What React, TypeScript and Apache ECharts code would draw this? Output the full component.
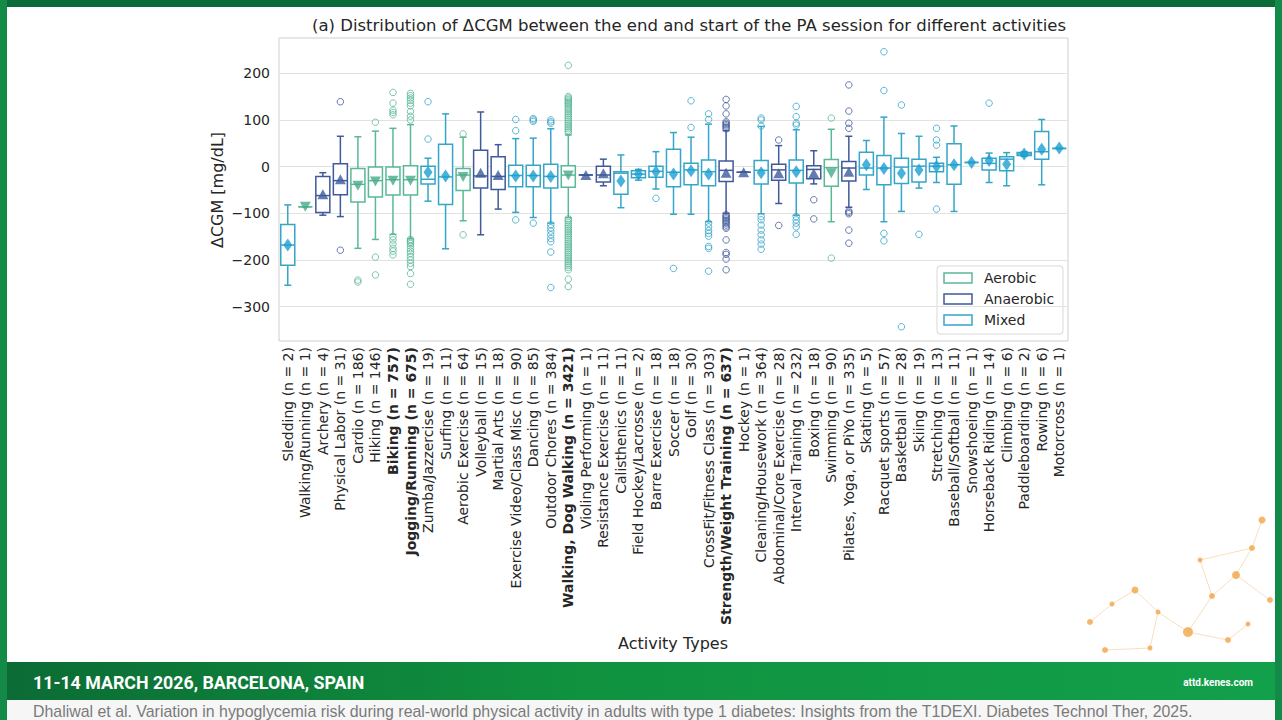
import React, { useEffect, useRef } from "react";
import * as echarts from "echarts";

// ---------- data ----------
const CATEGORIES = [
  "Sledding (n = 2)",
  "Walking/Running (n = 1)",
  "Archery (n = 4)",
  "Physical Labor (n = 31)",
  "Cardio (n = 186)",
  "Hiking (n = 146)",
  "Biking (n = 757)",
  "Jogging/Running (n = 675)",
  "Zumba/Jazzercise (n = 19)",
  "Surfing (n = 11)",
  "Aerobic Exercise (n = 64)",
  "Volleyball (n = 15)",
  "Martial Arts (n = 18)",
  "Exercise Video/Class Misc (n = 90)",
  "Dancing (n = 85)",
  "Outdoor Chores (n = 384)",
  "Walking, Dog Walking (n = 3421)",
  "Violing Performing (n = 1)",
  "Resistance Exercise (n = 11)",
  "Calisthenics (n = 11)",
  "Field Hockey/Lacrosse (n = 2)",
  "Barre Exercise (n = 18)",
  "Soccer (n = 18)",
  "Golf (n = 30)",
  "CrossFit/Fitness Class (n = 303)",
  "Strength/Weight Training (n = 637)",
  "Hockey (n = 1)",
  "Cleaning/Housework (n = 364)",
  "Abdominal/Core Exercise (n = 28)",
  "Interval Training (n = 232)",
  "Boxing (n = 18)",
  "Swimming (n = 90)",
  "Pilates, Yoga, or PiYo (n = 335)",
  "Skating (n = 5)",
  "Racquet sports (n = 57)",
  "Basketball (n = 28)",
  "Skiing (n = 19)",
  "Stretching (n = 13)",
  "Baseball/Softball (n = 11)",
  "Snowshoeing (n = 1)",
  "Horseback Riding (n = 14)",
  "Climbing (n = 6)",
  "Paddleboarding (n = 2)",
  "Rowing (n = 6)",
  "Motorcross (n = 1)",
];
const BOLD_INDEX = [6, 7, 16, 25];

// 0 = Aerobic, 1 = Anaerobic, 2 = Mixed
const TYPE_NAMES = ["Aerobic", "Anaerobic", "Mixed"];
const TYPES = [
  2, 0, 1, 1, 0, 0, 0, 0, 2, 2,
  0, 1, 1, 2, 2, 2, 0, 1, 1, 2,
  2, 2, 2, 2, 2, 1, 1, 2, 1, 2,
  1, 0, 1, 2, 2, 2, 2, 2, 2, 2,
  2, 2, 2, 2, 2,
];

const WHISKER_LOW = [
  -254, -86, -104, -107, -175, -156, -145, -154, -74, -176,
  -116, -146, -91, -98, -109, -121, -109, -18, -41, -88,
  -29, -48, -102, -102, -118, -100, -12, -101, -79, -104,
  -37, -118, -87, -49, -118, -96, -46, -34, -96, 9,
  -34, -41, 22, -39, 39,
];
const Q1 = [
  -211, -86, -98, -60, -76, -65, -61, -61, -37, -81,
  -51, -46, -49, -43, -43, -46, -44, -18, -33, -59,
  -24, -23, -43, -39, -41, -32, -12, -37, -29, -35,
  -26, -42, -31, -18, -39, -36, -33, -11, -38, 9,
  -7, -9, 24, 16, 39,
];
const MEDIAN = [
  -168, -86, -62, -30, -38, -30, -28, -28, -27, -22,
  -18, -20, -21, -19, -19, -21, -18, -18, -18, -14,
  -16, -10, -12, -7, -11, -8, -12, -8, -7, -8,
  -6, -2, -3, -3, -3, -1, 1, 1, 4, 9,
  7, 16, 27, 32, 39,
];
const Q3 = [
  -124, -86, -21, 6, -4, -1, -1, 2, 1, 48,
  -4, 35, 21, 3, 3, 5, 2, -18, 1, -11,
  -9, 1, 37, 7, 14, 12, -12, 13, 5, 14,
  2, 15, 11, 31, 24, 18, 16, 7, 49, 9,
  18, 21, 30, 75, 39,
];
const WHISKER_HIGH = [
  -82, -86, -13, 65, 64, 76, 82, 90, 18, 113,
  63, 117, 47, 60, 61, 81, 68, -18, 16, 25,
  -6, 32, 73, 63, 91, 77, -12, 86, 45, 79,
  34, 80, 65, 56, 106, 71, 65, 20, 87, 9,
  29, 30, 32, 101, 39,
];
const MEANS = [
  -168, -86, -59, -27, -41, -32, -30, -30, -12, -20,
  -22, -13, -18, -20, -20, -21, -19, -18, -14, -31,
  -16, -11, -16, -9, -16, -13, -12, -13, -14, -11,
  -14, -14, -11, 4, -4, -14, -7, 0, 4, 9,
  13, 5, 27, 37, 40,
];
const OUTLIERS: number[][] = [
  [],
  [],
  [],
  [139, -179],
  [-243, -247],
  [95, -194, -232],
  [159, 136, 121, 116, 111, -150, -157, -166, -175, -181, -189],
  [157, 152, 147, 142, 136, 130, 118, 108, 100, -156, -159, -162, -165, -170, -176, -181, -186, -193, -200, -207, -214, -229, -252],
  [139, 59],
  [],
  [70, -146],
  [],
  [],
  [101, 77, -114],
  [103, 100, 97, -121],
  [100, 96, 93, -124, -131, -138, -146, -154, -161, -183, -259],
  [217, 150, 147, 144, 141, 138, 135, 132, 128, 125, 121, 117, 113, 109, 105, 101, 97, 93, 89, 85, 81, 77, 73,
    -112, -116, -120, -124, -128, -132, -136, -140, -144, -148, -152, -156, -160, -164, -168, -172, -176, -180,
    -184, -188, -192, -196, -200, -204, -208, -212, -216, -221, -241, -257],
  [],
  [],
  [],
  [],
  [-68],
  [-218],
  [141, 84],
  [113, 101, -121, -129, -137, -143, -149, -171, -175, -224],
  [144, 130, 113, 96, 93, 90, 87, 84, 81, -103, -106, -109, -112, -115, -118, -121, -125, -129, -132, -157, -184, -188, -198, -221],
  [],
  [104, 100, 87, -107, -114, -125, -136, -146, -157, -166, -177],
  [57, -126],
  [129, 107, 93, 89, -107, -114, -121, -129, -145],
  [-71, -112],
  [104, -196],
  [175, 119, 93, 82, -95, -98, -101, -136, -164],
  [],
  [246, 163, -143, -159],
  [132, -343],
  [-145],
  [82, 57, 46, -91],
  [],
  [],
  [136],
  [],
  [],
  [],
  [],
];
const Y_TICKS = [-300, -200, -100, 0, 100, 200];
const Y_MIN = -373.5;
const Y_MAX = 275.5;

// ---------- styles ----------
const EDGE_COLORS = ["#5ab896", "#40599a", "#35a5c8"];
const MARK_COLORS = ["#47aa88", "#3c5a9c", "#1c9fd2"];
const FONT = "DejaVu Sans";
const TEXT = "#262626";

const DOTS = [
  [1090, 622, 3], [1112, 604, 2.5], [1135, 590, 3.5], [1158, 612, 2.5], [1188, 632, 5],
  [1212, 596, 3], [1236, 575, 4], [1252, 548, 3], [1262, 520, 3.5], [1270, 600, 3],
  [1228, 640, 3], [1150, 648, 2.5], [1105, 650, 3], [1248, 624, 2.5], [1200, 560, 2.5],
];
const LINKS = [[0, 1], [1, 2], [2, 3], [3, 4], [4, 5], [5, 6], [6, 7], [7, 8], [6, 9], [4, 10], [3, 11], [11, 12], [10, 13], [5, 14], [14, 7]];

export default function App() {
  const ref = useRef<HTMLDivElement>(null);

  useEffect(() => {
    if (!ref.current) return;
    const chart = echarts.init(ref.current, null, { renderer: "svg" });

    const boxData = CATEGORIES.map((_, i) => [i, WHISKER_LOW[i], Q1[i], MEDIAN[i], Q3[i], WHISKER_HIGH[i], TYPES[i]]);
    const outlierData: any[] = [];
    OUTLIERS.forEach((list, i) =>
      list.forEach((v) =>
        outlierData.push({ value: [i, v], itemStyle: { borderColor: EDGE_COLORS[TYPES[i]] } })
      )
    );
    const meanData = MEANS.map((m, i) => {
      const t = TYPES[i];
      return {
        value: [i, m],
        symbol: t === 2 ? "diamond" : "triangle",
        symbolRotate: t === 0 ? 180 : 0,
        symbolSize: t === 2 ? [9, 13] : [11, 10],
        itemStyle: { color: MARK_COLORS[t] },
      };
    });

    const legendChildren: any[] = [
      {
        type: "rect",
        shape: { x: 937, y: 266, width: 126, height: 68, r: 3 },
        style: { fill: "rgba(255,255,255,0.85)", stroke: "#d9d9d9", lineWidth: 1 },
      },
    ];
    TYPE_NAMES.forEach((name, k) => {
      const cy = 278 + k * 21;
      legendChildren.push({
        type: "rect",
        shape: { x: 944, y: cy - 5, width: 28, height: 10 },
        style: { fill: "#ffffff", stroke: EDGE_COLORS[k], lineWidth: 1.5 },
      });
      legendChildren.push({
        type: "text",
        x: 984,
        y: cy,
        style: { text: name, fontFamily: FONT, fontSize: 14, fill: TEXT, align: "left", verticalAlign: "middle" },
      });
    });

    const deco: any[] = [];
    LINKS.forEach(([a, b]) => {
      deco.push({
        type: "line",
        shape: { x1: DOTS[a][0], y1: DOTS[a][1], x2: DOTS[b][0], y2: DOTS[b][1] },
        style: { stroke: "rgba(240,160,70,0.35)", lineWidth: 1 },
      });
    });
    DOTS.forEach(([x, y, r]) => {
      deco.push({ type: "circle", shape: { cx: x, cy: y, r }, style: { fill: "rgba(240,160,60,0.75)" } });
    });

    const option: any = {
      animation: false,
      backgroundColor: "#ffffff",
      grid: {
        left: 279,
        right: 214,
        top: 38,
        bottom: 379,
        show: true,
        borderColor: "#cfcfcf",
        borderWidth: 1,
        backgroundColor: "#ffffff",
      },
      xAxis: {
        type: "category",
        data: CATEGORIES,
        boundaryGap: true,
        axisLine: { show: false },
        axisTick: { show: false },
        splitLine: { show: false },
        axisLabel: {
          interval: 0,
          rotate: 90,
          margin: 6,
          fontFamily: FONT,
          fontSize: 14,
          color: TEXT,
          formatter: (v: string, i: number) => (BOLD_INDEX.includes(i) ? `{b|${v}}` : v),
          rich: { b: { fontFamily: FONT, fontSize: 14, fontWeight: "bold", color: TEXT } },
        },
      },
      yAxis: {
        type: "value",
        min: Y_MIN,
        max: Y_MAX,
        axisLine: { show: false },
        axisTick: { show: false, customValues: Y_TICKS },
        axisLabel: {
          customValues: Y_TICKS,
          formatter: (v: number) => (v < 0 ? "\u2212" + Math.abs(v) : String(v)),
          fontFamily: FONT,
          fontSize: 14,
          color: TEXT,
          margin: 9,
        },
        splitLine: { show: true, lineStyle: { color: "#e2e2e2", width: 1.2 } },
      },
      series: [
        {
          type: "custom",
          name: "boxes",
          silent: true,
          z: 2,
          encode: { x: 0, y: [1, 2, 3, 4, 5] },
          data: boxData,
          renderItem: (params: any, api: any) => {
            const i = api.value(0);
            const t = api.value(6);
            const x = api.coord([i, 0])[0];
            const bw = api.size([1, 0])[0] * 0.8;
            const yv = (k: number) => api.coord([i, api.value(k)])[1];
            const yl = yv(1), y1 = yv(2), ym = yv(3), y3 = yv(4), yh = yv(5);
            const col = EDGE_COLORS[t];
            const ls = { stroke: col, lineWidth: 1.5 };
            return {
              type: "group",
              children: [
                { type: "line", shape: { x1: x, y1: y1, x2: x, y2: yl }, style: ls },
                { type: "line", shape: { x1: x, y1: y3, x2: x, y2: yh }, style: ls },
                { type: "line", shape: { x1: x - bw / 4, y1: yl, x2: x + bw / 4, y2: yl }, style: ls },
                { type: "line", shape: { x1: x - bw / 4, y1: yh, x2: x + bw / 4, y2: yh }, style: ls },
                {
                  type: "rect",
                  shape: { x: x - bw / 2, y: y3, width: bw, height: y1 - y3 },
                  style: { fill: "#ffffff", stroke: col, lineWidth: 1.5 },
                },
                { type: "line", shape: { x1: x - bw / 2, y1: ym, x2: x + bw / 2, y2: ym }, style: ls },
              ],
            };
          },
        },
        {
          type: "scatter",
          name: "outliers",
          silent: true,
          z: 3,
          symbol: "circle",
          symbolSize: 6.5,
          itemStyle: { color: "rgba(255,255,255,0)", borderWidth: 1 },
          data: outlierData,
        },
        {
          type: "scatter",
          name: "means",
          silent: true,
          z: 5,
          data: meanData,
        },
      ],
      graphic: [
        // slide frame
        { type: "rect", z: 10, shape: { x: 0, y: 0, width: 1282, height: 7 }, style: { fill: "#0d6b39" } },
        { type: "rect", z: 10, shape: { x: 0, y: 0, width: 7, height: 720 }, style: { fill: "#138a47" } },
        { type: "rect", z: 10, shape: { x: 1275, y: 0, width: 7, height: 720 }, style: { fill: "#138a47" } },
        {
          type: "rect",
          z: 10,
          shape: { x: 7, y: 662, width: 1268, height: 38 },
          style: {
            fill: new echarts.graphic.LinearGradient(0, 0, 1, 0, [
              { offset: 0, color: "#0b6c35" },
              { offset: 0.45, color: "#10923f" },
              { offset: 1, color: "#13a04b" },
            ]),
          },
        },
        { type: "rect", z: 10, shape: { x: 7, y: 700, width: 1268, height: 20 }, style: { fill: "#f6f6f6" } },
        {
          type: "text",
          z: 11,
          x: 33,
          y: 682,
          style: {
            text: "11-14 MARCH 2026, BARCELONA, SPAIN",
            fontFamily: "Roboto",
            fontWeight: "bold",
            fontSize: 17.8,
            fill: "#ffffff",
            align: "left",
            verticalAlign: "middle",
          },
        },
        {
          type: "text",
          z: 11,
          x: 1253,
          y: 682,
          style: {
            text: "attd.kenes.com",
            fontFamily: "Roboto",
            fontWeight: "bold",
            fontSize: 10,
            fill: "#ffffff",
            align: "right",
            verticalAlign: "middle",
          },
        },
        {
          type: "text",
          z: 11,
          x: 33,
          y: 711,
          style: {
            text:
              "Dhaliwal et al. Variation in hypoglycemia risk during real-world physical activity in adults with type 1 diabetes: Insights from the T1DEXI. Diabetes Technol Ther, 2025.",
            fontFamily: "Liberation Sans",
            fontSize: 15.9,
            fill: "#7a7a7a",
            align: "left",
            verticalAlign: "middle",
          },
        },
        // titles
        {
          type: "text",
          z: 11,
          x: 689,
          y: 25,
          style: {
            text: "(a) Distribution of \u0394CGM between the end and start of the PA session for different activities",
            fontFamily: FONT,
            fontSize: 16.5,
            fill: TEXT,
            align: "center",
            verticalAlign: "middle",
          },
        },
        {
          type: "text",
          z: 11,
          x: 217,
          y: 190,
          rotation: Math.PI / 2,
          style: {
            text: "\u0394CGM [mg/dL]",
            fontFamily: FONT,
            fontSize: 16,
            fill: TEXT,
            align: "center",
            verticalAlign: "middle",
          },
        },
        {
          type: "text",
          z: 11,
          x: 673,
          y: 643,
          style: {
            text: "Activity Types",
            fontFamily: FONT,
            fontSize: 16,
            fill: TEXT,
            align: "center",
            verticalAlign: "middle",
          },
        },
        { type: "group", z: 12, children: legendChildren },
        { type: "group", z: 9, children: deco },
      ],
    };

    chart.setOption(option);
    return () => chart.dispose();
  }, []);

  return <div ref={ref} style={{ position: "fixed", left: 0, top: 0, width: 1282, height: 720 }} />;
}
